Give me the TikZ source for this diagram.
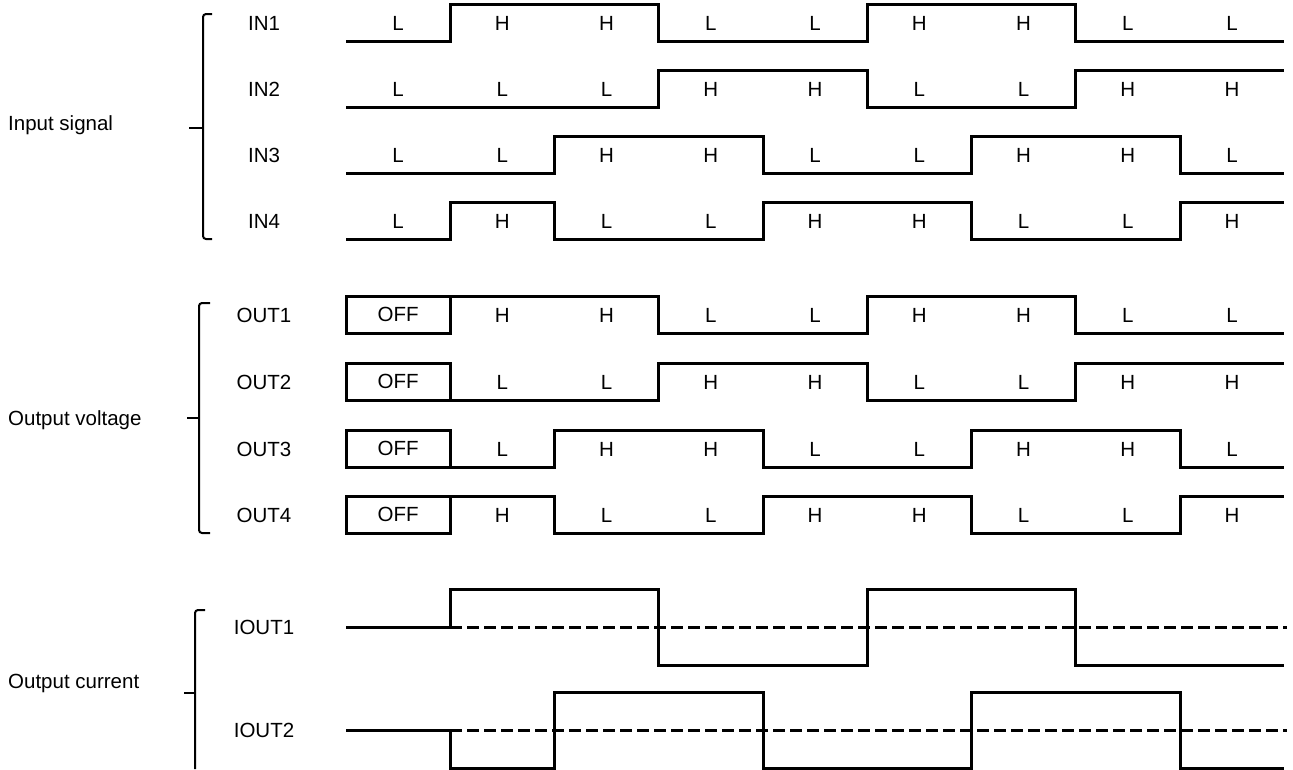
\documentclass[tikz,border=0pt]{standalone}
\usepackage{fontspec}
\setmainfont{Liberation Sans}
\begin{document}
\begin{tikzpicture}[x=1pt,y=-1pt,
    sig/.style={line width=3pt,line join=miter},
    refl/.style={line width=3pt,dash pattern=on 12pt off 5pt},
    brc/.style={line width=2pt,rounded corners=3pt},
    offbox/.style={draw,line width=3pt,anchor=center,outer sep=0pt,
                   minimum width=104.25pt,minimum height=37pt},
    every node/.style={font=\fontsize{20.5}{24}\selectfont,inner sep=0pt,
                       anchor=base}]
  \useasboundingbox (0,0) rectangle (1293,769);
  %-------------------------------------------------- group 1: input signals
  \node[anchor=base west] (gin) at (8,130) {Input signal};
  \draw[brc] (212,14) -- (203,14) -- (203,239) -- (212,239);
  \draw[brc] (203,128) -- (189,128);
  \foreach \r/\yl/\seq in {1/41/{0,1,1,0,0,1,1,0,0},
                           2/107/{0,0,0,1,1,0,0,1,1},
                           3/173/{0,0,1,1,0,0,1,1,0},
                           4/239/{0,1,0,0,1,1,0,0,1}}{
    \node (in\r) at (264,\yl-11) {IN\r};
    \draw[sig] (346,\yl) \foreach \v [count=\i] in \seq {
      -- ({346+104.25*(\i-1)},{\yl-37*\v}) -- ({346+104.25*\i},{\yl-37*\v})};
    \foreach \v [count=\i] in \seq
      \node (in\r s\i) at ({346+104.25*(\i-0.5)},\yl-11)
        {\ifnum\v=1 H\else L\fi};
  }
  %-------------------------------------------------- group 2: output voltage
  \node[anchor=base west] (gout) at (8,425) {Output voltage};
  \draw[brc] (210,303) -- (199,303) -- (199,533) -- (210,533);
  \draw[brc] (199,418) -- (187,418);
  \foreach \r/\yl/\seq in {1/333/{1,1,0,0,1,1,0,0},
                           2/400/{0,0,1,1,0,0,1,1},
                           3/467/{0,1,1,0,0,1,1,0},
                           4/533/{1,0,0,1,1,0,0,1}}{
    \node (out\r) at (264,\yl-11) {OUT\r};
    \node[offbox] (off\r) at (398.125,\yl-18.5) {OFF};
    \draw[sig] (off\r.south east) \foreach \v [count=\i from 2] in \seq {
      -- ({346+104.25*(\i-1)},{\yl-37*\v}) -- ({346+104.25*\i},{\yl-37*\v})};
    \foreach \v [count=\i from 2] in \seq
      \node (out\r s\i) at ({346+104.25*(\i-0.5)},\yl-11)
        {\ifnum\v=1 H\else L\fi};
  }
  %-------------------------------------------------- group 3: output current
  \node[anchor=base west] (gcur) at (8,688) {Output current};
  \draw[brc] (205,610) -- (195,610) -- (195,769);
  \draw[brc] (195,693) -- (184,693);
  % dashed line = zero current, solid = the current itself
  \foreach \r/\yb/\seq in {1/627/{0,1,1,-1,-1,1,1,-1,-1},
                           2/730/{0,-1,1,1,-1,-1,1,1,-1}}{
    \node (iout\r) at (264,\yb+7.5) {IOUT\r};
    \draw[refl] (450.25,\yb) -- (1287,\yb);
    \draw[sig] (346,\yb) \foreach \v [count=\i] in \seq {
      -- ({346+104.25*(\i-1)},{\yb-38*\v}) -- ({346+104.25*\i},{\yb-38*\v})};
  }
\end{tikzpicture}
\end{document}
